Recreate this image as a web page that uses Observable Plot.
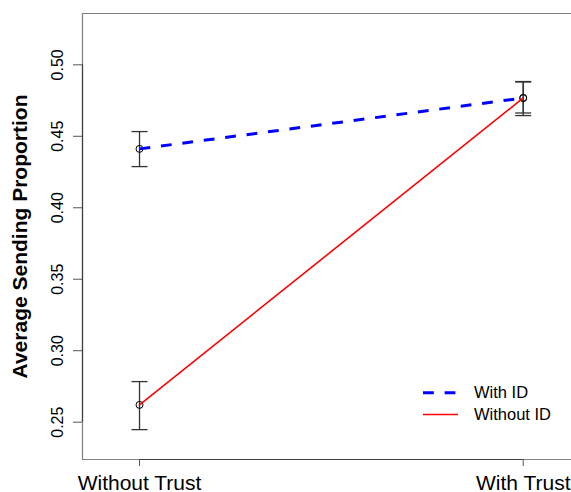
<!DOCTYPE html>
<html>
<head>
<meta charset="utf-8">
<script src="https://cdn.jsdelivr.net/npm/d3@7"></script>
<script src="https://cdn.jsdelivr.net/npm/@observablehq/plot@0.6"></script>
<style>
  html, body { margin: 0; padding: 0; background: white; }
  #chart { position: relative; width: 571px; height: 492px; overflow: hidden; }
</style>
</head>
<body>
<div id="chart"></div>
<script>
// ---- data ----
const conditions = ["Without Trust", "With Trust"];
const seriesNames = ["With ID", "Without ID"];
const withIdMean = [0.4412, 0.4768];
const withIdLower = [0.4288, 0.4645];
const withIdUpper = [0.4533, 0.4883];
const withoutIdMean = [0.2621, 0.4768];
const withoutIdLower = [0.2448, 0.4663];
const withoutIdUpper = [0.2784, 0.4880];
const yTicks = [0.25, 0.30, 0.35, 0.40, 0.45, 0.50];
const yTitle = "Average Sending Proportion";

const seriesColors = ["#0000ff", "#ff0000"];

const data = conditions.flatMap((c, i) => [
  {cond: i + 1, series: seriesNames[0], mean: withIdMean[i], lo: withIdLower[i], hi: withIdUpper[i]},
  {cond: i + 1, series: seriesNames[1], mean: withoutIdMean[i], lo: withoutIdLower[i], hi: withoutIdUpper[i]}
]);

const xDomain = [0.8514, 2.1258];
const yDomain = [0.2239, 0.5359];
const xTicks = d3.range(1, conditions.length + 1);

const cap = {draw(ctx) { ctx.moveTo(-8, 0); ctx.lineTo(8, 0); }};
const font = "'Liberation Sans', Arial, Helvetica, sans-serif";

const chart = Plot.plot({
  width: 571,
  height: 492,
  marginLeft: 82,
  marginRight: 0,
  marginTop: 13,
  marginBottom: 33,
  style: {fontFamily: font, background: "white", color: "black"},
  x: {type: "linear", domain: xDomain},
  y: {type: "linear", domain: yDomain},
  marks: [
    // box (right side lies outside the picture)
    Plot.ruleY([yDomain[1]], {stroke: "#808080", strokeWidth: 1.2}),
    Plot.ruleY([yDomain[0]], {stroke: "#808080", strokeWidth: 1.2}),
    Plot.ruleX([xDomain[0]], {stroke: "#808080", strokeWidth: 1.2}),
    // axis lines (first tick to last tick)
    Plot.ruleY([yDomain[0]], {x1: xTicks[0], x2: xTicks[xTicks.length - 1], stroke: "#404040", strokeWidth: 1.2}),
    Plot.ruleX([xDomain[0]], {y1: yTicks[0], y2: yTicks[yTicks.length - 1], stroke: "#404040", strokeWidth: 1.2}),
    Plot.axisY({ticks: yTicks, tickFormat: d3.format(".2f"), tickSize: 9, tickPadding: 11, tickRotate: -90,
                fontSize: 16, label: null, stroke: "#555", fill: "black"}),
    Plot.axisX({ticks: xTicks, tickFormat: i => conditions[i - 1], tickSize: 7, tickPadding: 9,
                fontSize: 21, label: null, stroke: "#555", fill: "black"}),
    Plot.text([yTitle], {text: d => d, frameAnchor: "left", rotate: -90, dx: -62.5,
                         textAnchor: "middle", lineAnchor: "middle",
                         fontSize: 21, fontWeight: "bold", fill: "black"}),
    // error bars
    Plot.ruleX(data, {x: "cond", y1: "lo", y2: "hi", stroke: "#333", strokeWidth: 1.3}),
    Plot.dot(data, {x: "cond", y: "hi", symbol: cap, stroke: "#333", strokeWidth: 1.3, fill: "none", r: 5}),
    Plot.dot(data, {x: "cond", y: "lo", symbol: cap, stroke: "#333", strokeWidth: 1.3, fill: "none", r: 5}),
    // points
    Plot.dot(data, {x: "cond", y: "mean", r: 3.5, stroke: "black", strokeWidth: 1, fill: "none"}),
    // lines
    Plot.line(data, {filter: d => d.series === seriesNames[0], x: "cond", y: "mean",
                     stroke: seriesColors[0], strokeWidth: 3, strokeDasharray: "10.8 10.8", strokeLinecap: "butt"}),
    Plot.line(data, {filter: d => d.series === seriesNames[1], x: "cond", y: "mean",
                     stroke: seriesColors[1], strokeWidth: 1.6})
  ]
});

// legend (no box), inside the plot area
const svg = d3.select(chart);
const lg = svg.append("g").attr("font-family", font).attr("font-size", 16.5).attr("text-anchor", "start");
const legendRows = [
  {name: seriesNames[0], color: seriesColors[0], width: 3, dash: "10.8 10.8", y: 392.7},
  {name: seriesNames[1], color: seriesColors[1], width: 1.6, dash: null, y: 414.5}
];
legendRows.forEach(r => {
  lg.append("line").attr("x1", 423).attr("x2", 458).attr("y1", r.y).attr("y2", r.y)
    .attr("stroke", r.color).attr("stroke-width", r.width)
    .attr("stroke-dasharray", r.dash);
  lg.append("text").attr("x", 474).attr("y", r.y).attr("dy", "0.35em")
    .attr("text-anchor", "start").attr("fill", "black").text(r.name);
});

document.getElementById("chart").appendChild(chart);
</script>
</body>
</html>
